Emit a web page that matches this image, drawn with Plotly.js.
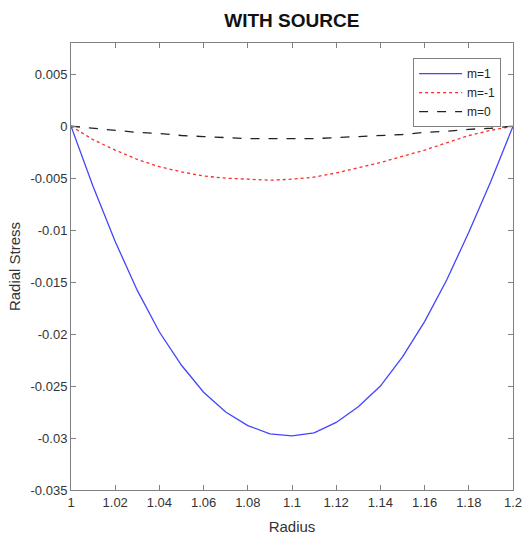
<!DOCTYPE html>
<html>
<head>
<meta charset="utf-8">
<script src="https://cdn.plot.ly/plotly-3.0.1.min.js"></script>
<style>html,body{margin:0;padding:0;background:#fff;}#chart{width:523px;height:538px;}</style>
</head>
<body>
<div id="chart"></div>
<script>
const radius = [1.00,1.01,1.02,1.03,1.04,1.05,1.06,1.07,1.08,1.09,1.10,1.11,1.12,1.13,1.14,1.15,1.16,1.17,1.18,1.19,1.20];
const stressM1 = [0,-0.0058,-0.0111,-0.0158,-0.0198,-0.0230,-0.0256,-0.0275,-0.0288,-0.0296,-0.0298,-0.0295,-0.0285,-0.0270,-0.0250,-0.0222,-0.0188,-0.0148,-0.0102,-0.0053,0];
const stressMm1 = [0,-0.0013,-0.0023,-0.0032,-0.0039,-0.0044,-0.0048,-0.0050,-0.0051,-0.0052,-0.0051,-0.0049,-0.0045,-0.0040,-0.0035,-0.0029,-0.0023,-0.0016,-0.0009,-0.0004,0];
const stressM0 = [0,-0.0002,-0.0004,-0.0006,-0.0007,-0.0009,-0.0010,-0.0011,-0.0012,-0.0012,-0.0012,-0.0012,-0.0011,-0.0010,-0.0009,-0.0008,-0.0006,-0.0005,-0.0003,-0.0002,0];
const seriesNames = ['m=1','m=-1','m=0'];
const xTickVals = [1,1.02,1.04,1.06,1.08,1.1,1.12,1.14,1.16,1.18,1.2];
const xTickText = ['1','1.02','1.04','1.06','1.08','1.1','1.12','1.14','1.16','1.18','1.2'];
const yTickVals = [0.005,0,-0.005,-0.01,-0.015,-0.02,-0.025,-0.03,-0.035];
const yTickText = ['0.005','0','-0.005','-0.01','-0.015','-0.02','-0.025','-0.03','-0.035'];

const font = 'Liberation Sans, Arial, sans-serif';
const traces = [
  {x: radius, y: stressM1, name: seriesNames[0], mode: 'lines', line: {color: '#4444ff', width: 1.3, dash: 'solid'}},
  {x: radius, y: stressMm1, name: seriesNames[1], mode: 'lines', line: {color: '#ff2a2a', width: 1.3, dash: 'dot'}},
  {x: radius, y: stressM0, name: seriesNames[2], mode: 'lines', line: {color: '#222222', width: 1.3, dash: 'dash'}}
];
const axisCommon = {
  showgrid: false, zeroline: false, showline: true, linecolor: '#808080', linewidth: 1,
  mirror: 'ticks', ticks: 'inside', ticklen: 5, tickcolor: '#808080', tickwidth: 1,
  tickfont: {family: font, size: 13, color: '#333333'}, tickmode: 'array'
};
const layout = {
  width: 523, height: 538,
  margin: {l: 71, r: 10, t: 43, b: 48},
  paper_bgcolor: '#ffffff', plot_bgcolor: '#ffffff',
  title: {text: '<b>WITH SOURCE</b>', font: {family: font, size: 19, color: '#111111'}, x: 0.558, xanchor: 'center', y: 0.963, yanchor: 'middle'},
  xaxis: Object.assign({}, axisCommon, {
    range: [1, 1.2], tickvals: xTickVals, ticktext: xTickText,
    title: {text: 'Radius', font: {family: font, size: 15, color: '#333333'}, standoff: 12}
  }),
  yaxis: Object.assign({}, axisCommon, {
    range: [-0.035, 0.008], tickvals: yTickVals, ticktext: yTickText,
    title: {text: 'Radial Stress', font: {family: font, size: 15, color: '#333333'}, standoff: 6}
  }),
  showlegend: true,
  legend: {
    x: 0.774, y: 0.966, xanchor: 'left', yanchor: 'top',
    bgcolor: '#ffffff', bordercolor: '#808080', borderwidth: 1,
    font: {family: font, size: 12, color: '#222222'}, tracegroupgap: 0, itemwidth: 43
  }
};
Plotly.newPlot('chart', traces, layout, {staticPlot: true, displayModeBar: false});
</script>
</body>
</html>
